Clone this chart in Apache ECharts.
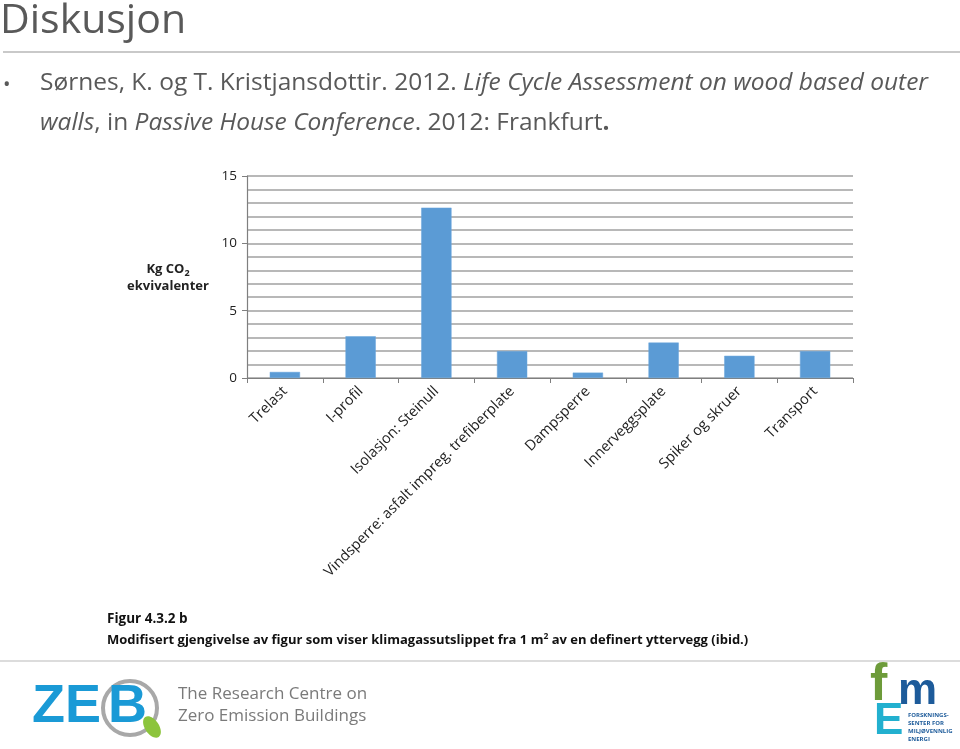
<!DOCTYPE html>
<html>
<head>
<meta charset="utf-8">
<script src="https://cdn.jsdelivr.net/npm/echarts@6/dist/echarts.min.js"></script>
<style>
html,body{margin:0;padding:0;background:#fff;}
#chart{width:960px;height:749px;}
</style>
</head>
<body>
<div id="chart"></div>
<script>
// ---- data ----
var categories = ['Trelast', 'I-profil', 'Isolasjon: Steinull', 'Vindsperre: asfalt impreg. trefiberplate', 'Dampsperre', 'Innerveggsplate', 'Spiker og skruer', 'Transport'];
var values = [0.45, 3.1, 12.65, 2.0, 0.4, 2.63, 1.65, 2.0];
var yTicks = [0, 5, 10, 15];

var titleText = 'Diskusjon';
var captionTitle = 'Figur 4.3.2 b';

var chart = echarts.init(document.getElementById('chart'), null, {renderer: 'canvas'});
var bodyFont = "'Open Sans', sans-serif";
var chartFont = "'Open Sans', sans-serif";

var option = {
  backgroundColor: '#ffffff',
  animation: false,
  grid: {left: 247, right: 107, top: 176, bottom: 371, containLabel: false},
  xAxis: {
    type: 'category',
    data: categories,
    boundaryGap: true,
    axisLine: {show: true, lineStyle: {color: '#7f7f7f', width: 1.2}},
    axisTick: {show: true, alignWithLabel: false, length: 5, lineStyle: {color: '#7f7f7f'}},
    axisLabel: {rotate: 45, interval: 0, margin: 11, color: '#222', fontSize: 14.5, fontFamily: chartFont}
  },
  yAxis: {
    type: 'value',
    min: 0, max: 15, interval: 5,
    axisLine: {show: true, lineStyle: {color: '#7f7f7f', width: 1.2}},
    axisTick: {show: true, length: 5, lineStyle: {color: '#7f7f7f'}},
    axisLabel: {color: '#222', fontSize: 13.5, fontFamily: chartFont, margin: 10,
      formatter: function (v) { return yTicks.indexOf(v) >= 0 ? String(v) : ''; }},
    splitLine: {show: true, lineStyle: {color: '#a0a0a0', width: 1.6}},
    minorTick: {show: false, splitNumber: 5},
    minorSplitLine: {show: true, lineStyle: {color: '#a0a0a0', width: 1.6}}
  },
  series: [{
    type: 'bar',
    data: values,
    barWidth: '40%',
    itemStyle: {color: '#5b9bd5', borderColor: '#6aa6dc', borderWidth: 0.5},
    z: 3
  }],
  graphic: [
    {type: 'text', left: 0, top: 1, style: {text: titleText, fontSize: 41, fontFamily: bodyFont, fill: '#595959'}},
    {type: 'line', shape: {x1: 3, y1: 52, x2: 960, y2: 52}, style: {stroke: '#c9c9c9', lineWidth: 2}},
    {type: 'text', left: 3, top: 75, style: {text: '•', fontSize: 20, fontFamily: bodyFont, fill: '#595959'}},
    {type: 'text', left: 40, top: 71, style: {
      text: 'Sørnes, K. og T. Kristjansdottir. 2012. {i|Life Cycle Assessment on wood based outer}',
      fontSize: 24.5, fontFamily: bodyFont, fill: '#595959',
      rich: {i: {fontStyle: 'italic', fontSize: 24.5, fontFamily: bodyFont, fill: '#595959'}}}},
    {type: 'text', left: 40, top: 111, style: {
      text: '{i|walls}, in {i|Passive House Conference}. 2012: Frankfurt{b|.}',
      fontSize: 24.5, fontFamily: bodyFont, fill: '#595959',
      rich: {i: {fontStyle: 'italic', fontSize: 24.5, fontFamily: bodyFont, fill: '#595959'},
             b: {fontWeight: 'bold', fontSize: 24.5, fontFamily: bodyFont, fill: '#595959'}}}},
    // y axis name
    {type: 'text', x: 168, y: 261, style: {
      text: 'Kg CO{sub|2}', align: 'center', fontSize: 13, fontWeight: 'bold', fontFamily: chartFont, fill: '#222',
      rich: {sub: {fontSize: 9, fontWeight: 'bold', fontFamily: chartFont, fill: '#222', padding: [8, 0, 0, 0]}}}},
    {type: 'text', x: 168, y: 280, style: {
      text: 'ekvivalenter', align: 'center', fontSize: 13, fontWeight: 'bold', fontFamily: chartFont, fill: '#222'}},
    // caption
    {type: 'text', left: 107, top: 612, style: {text: captionTitle, fontSize: 13.5, fontWeight: 'bold', fontFamily: chartFont, fill: '#111'}},
    {type: 'text', left: 107, top: 632, style: {
      text: 'Modifisert gjengivelse av figur som viser klimagassutslippet fra 1 m{sup|2} av en definert yttervegg (ibid.)',
      fontSize: 13, fontWeight: 'bold', fontFamily: chartFont, fill: '#111',
      rich: {sup: {fontSize: 8.5, fontWeight: 'bold', fontFamily: chartFont, fill: '#111', padding: [0, 0, 8, 0]}}}},
    {type: 'line', shape: {x1: 0, y1: 661, x2: 960, y2: 661}, style: {stroke: '#dcdcdc', lineWidth: 2}},
    // ZEB logo
    {type: 'text', left: 32, top: 680, style: {text: 'ZE', fontSize: 54, fontWeight: 'bold', fontFamily: "'Liberation Sans', sans-serif", fill: '#1a9ad6'}},
    {type: 'circle', shape: {cx: 130, cy: 708, r: 27}, style: {fill: 'none', stroke: '#a8a8a8', lineWidth: 4}},
    {type: 'text', left: 108, top: 680, style: {text: 'B', fontSize: 54, fontWeight: 'bold', fontFamily: "'Liberation Sans', sans-serif", fill: '#1a9ad6'}},
    {type: 'ellipse', shape: {cx: 152, cy: 727, rx: 7, ry: 12}, rotation: 0.6, originX: 152, originY: 727, style: {fill: '#8cc43c'}},
    {type: 'text', left: 178, top: 686, style: {text: 'The Research Centre on', fontSize: 17, fontFamily: chartFont, fill: '#7a7a7a'}},
    {type: 'text', left: 178, top: 708, style: {text: 'Zero Emission Buildings', fontSize: 17, fontFamily: chartFont, fill: '#7a7a7a'}},
    // FME logo
    {type: 'text', left: 870, top: 660, style: {text: 'f', fontSize: 52, fontWeight: 'bold', fontFamily: "'Liberation Sans', sans-serif", fill: '#6d9b3a'}},
    {type: 'text', left: 898, top: 670, style: {text: 'm', fontSize: 44, fontWeight: 'bold', fontFamily: "'Liberation Sans', sans-serif", fill: '#1d5b9a'}},
    {type: 'text', left: 874, top: 700, style: {text: 'E', fontSize: 44, fontWeight: 'bold', fontFamily: "'Liberation Sans', sans-serif", fill: '#22b0cf'}},
    {type: 'text', left: 908, top: 711, style: {text: 'FORSKNINGS-\nSENTER FOR\nMILJØVENNLIG\nENERGI', fontSize: 6, lineHeight: 8, fontWeight: 'bold', fontFamily: chartFont, fill: '#1d5b9a'}}
  ]
};
chart.setOption(option);
</script>
</body>
</html>
